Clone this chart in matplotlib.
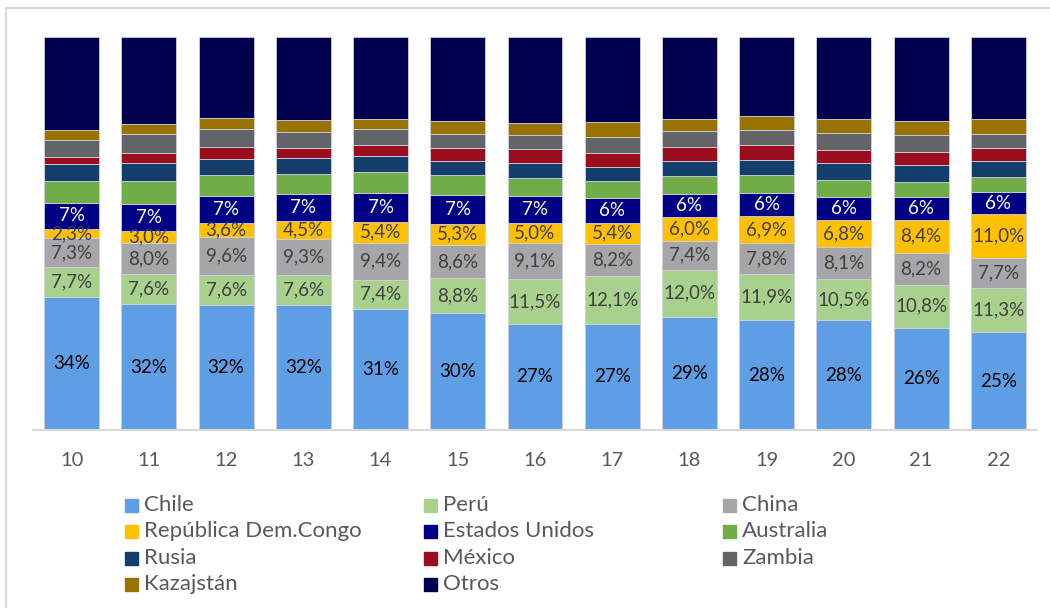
import numpy as np
import matplotlib
matplotlib.use('Agg')
from matplotlib import pyplot as plt
from matplotlib.patches import Rectangle

plt.rcParams['font.family'] = ['Lato', 'DejaVu Sans']

years = ['10', '11', '12', '13', '14', '15', '16', '17', '18', '19', '20', '21', '22']

chile = [34, 32, 32, 32, 31, 30, 27, 27, 29, 28, 28, 26, 25]
peru = [7.7, 7.6, 7.6, 7.6, 7.4, 8.8, 11.5, 12.1, 12.0, 11.9, 10.5, 10.8, 11.3]
china = [7.3, 8.0, 9.6, 9.3, 9.4, 8.6, 9.1, 8.2, 7.4, 7.8, 8.1, 8.2, 7.7]
congo = [2.3, 3.0, 3.6, 4.5, 5.4, 5.3, 5.0, 5.4, 6.0, 6.9, 6.8, 8.4, 11.0]
eeuu = [6.8, 6.9, 6.9, 6.8, 7.4, 7.4, 7.0, 6.4, 6.0, 6.0, 5.9, 5.8, 5.7]
australia = [5.5, 5.9, 5.5, 5.3, 5.3, 5.1, 4.7, 4.2, 4.6, 4.6, 4.3, 3.9, 3.8]
rusia = [4.3, 4.4, 4.1, 4.0, 4.0, 3.6, 3.6, 3.6, 3.7, 3.9, 4.4, 4.1, 4.1]
mexico = [1.8, 2.7, 2.9, 2.5, 2.8, 3.3, 3.8, 3.6, 3.6, 3.6, 3.4, 3.4, 3.3]
zambia = [4.5, 4.8, 4.7, 4.2, 4.2, 3.7, 3.5, 3.9, 4.2, 3.9, 4.2, 4.2, 3.7]
kazajstan = [2.5, 2.6, 2.9, 3.1, 2.6, 3.1, 3.0, 3.9, 3.1, 3.5, 3.6, 3.6, 3.7]
otros = [23.7, 22.0, 20.6, 21.1, 20.9, 21.6, 21.9, 21.6, 20.9, 20.3, 20.9, 21.4, 21.0]

names = ['Chile', 'Perú', 'China', 'República Dem.Congo', 'Estados Unidos',
         'Australia', 'Rusia', 'México', 'Zambia', 'Kazajstán', 'Otros']
series = [chile, peru, china, congo, eeuu, australia, rusia, mexico, zambia, kazajstan, otros]
colors = ['#5E9EE4', '#A9D18E', '#A6A6A8', '#FFC000', '#000085', '#70AD47',
          '#133D6B', '#990D1C', '#636468', '#997300', '#00004F']

# label style per series (None = no label)
label_fmt = ['{:.0f}%', '{:.1f}%', '{:.1f}%', '{:.1f}%', '{:.0f}%',
             None, None, None, None, None, None]
label_col = ['#000000', '#404040', '#404040', '#404040', '#FFFFFF',
             None, None, None, None, None, None]

W, H = 1050, 608
fig = plt.figure(figsize=(W / 100, H / 100), dpi=100)
ax = fig.add_axes([33 / W, 1 - 430 / H, 1004 / W, 393 / H])

data = np.array(series, dtype=float)
totals = data.sum(axis=0)
pct = data / totals * 100
x = np.arange(len(years))
bottom = np.zeros(len(years))
for i, name in enumerate(names):
    ax.bar(x, pct[i], 0.712, bottom=bottom, color=colors[i], label=name,
           edgecolor='#d0d0dc', linewidth=0.6)
    if label_fmt[i]:
        for j in range(len(years)):
            txt = label_fmt[i].format(data[i][j]).replace('.', ',')
            ax.text(x[j], bottom[j] + pct[i][j] / 2, txt, ha='center', va='center',
                    fontsize=13.5, color=label_col[i])
    bottom += pct[i]

ax.set_xlim(-0.5, len(years) - 0.5)
ax.set_ylim(0, 100)
ax.set_yticks([])
ax.set_xticks(x)
ax.set_xticklabels(years, fontsize=14.5, color='#595959')
ax.tick_params(axis='x', length=0, pad=16)
for s in ['top', 'right', 'left']:
    ax.spines[s].set_visible(False)
ax.spines['bottom'].set_color('#d9d9d9')
ax.spines['bottom'].set_linewidth(1.5)

# legend, 3 columns row by row
col_x = [125, 424, 723]
row_y = [505, 531, 558, 584]
for i, name in enumerate(names):
    r, c = i // 3, i % 3
    px, py = col_x[c], row_y[r]
    fig.patches.append(Rectangle((px / W, 1 - (py + 6.5) / H), 13 / W, 13 / H,
                                 transform=fig.transFigure, color=colors[i]))
    fig.text((px + 19) / W, 1 - py / H, name, fontsize=16, color='#595959',
             va='center', ha='left')

# chart frame (cut off at right / bottom)
fig.patches.append(Rectangle((6 / W, -0.1), 1.2, 1 - 8 / H + 0.1, transform=fig.transFigure,
                             fill=False, edgecolor='#d9d9d9', linewidth=1.5))

plt.savefig('out.png', dpi=100)
plt.close('all')
